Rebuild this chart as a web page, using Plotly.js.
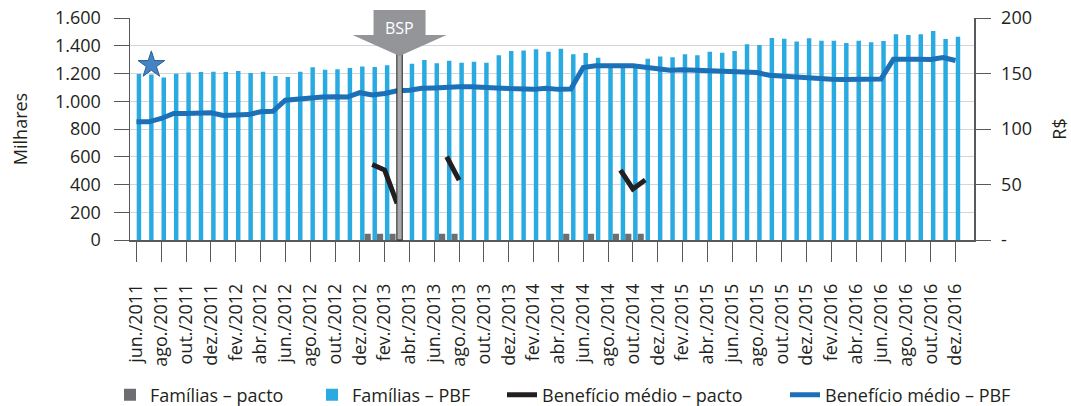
<!DOCTYPE html>
<html><head><meta charset="utf-8">
<script src="https://cdn.plot.ly/plotly-3.0.1.min.js"></script>
<style>html,body{margin:0;padding:0;background:#fff}#chart{width:1071px;height:406px}</style>
</head><body><div id="chart"></div>
<script>
// ---------- DATA ----------
const months = [
 "jun./2011","jul./2011","ago./2011","set./2011","out./2011","nov./2011","dez./2011",
 "jan./2012","fev./2012","mar./2012","abr./2012","mai./2012","jun./2012","jul./2012","ago./2012","set./2012","out./2012","nov./2012","dez./2012",
 "jan./2013","fev./2013","mar./2013","abr./2013","mai./2013","jun./2013","jul./2013","ago./2013","set./2013","out./2013","nov./2013","dez./2013",
 "jan./2014","fev./2014","mar./2014","abr./2014","mai./2014","jun./2014","jul./2014","ago./2014","set./2014","out./2014","nov./2014","dez./2014",
 "jan./2015","fev./2015","mar./2015","abr./2015","mai./2015","jun./2015","jul./2015","ago./2015","set./2015","out./2015","nov./2015","dez./2015",
 "jan./2016","fev./2016","mar./2016","abr./2016","mai./2016","jun./2016","jul./2016","ago./2016","set./2016","out./2016","nov./2016","dez./2016"
];
// Famílias – PBF (milhares)
const familiasPBF = [
 1196,1192,1172,1199,1208,1211,1213,1211,1218,1204,
 1213,1182,1175,1213,1245,1227,1230,1240,1251,1247,
 1259,1265,1271,1297,1273,1292,1278,1285,1278,1331,
 1362,1365,1374,1357,1379,1338,1348,1314,1260,1255,
 1262,1307,1322,1317,1338,1331,1357,1350,1362,1410,
 1405,1456,1451,1430,1454,1436,1436,1420,1436,1425,
 1434,1482,1477,1482,1506,1449,1465
];
// Benefício médio – PBF (R$)
const beneficioPBF = [
 106.5,106.5,109.5,114,114,114,114.6,112.2,112.6,113,
 115.5,116,126,127.3,127.9,128.8,129,128.8,132.7,130.6,
 132,134.5,135,136.7,137,137.8,138,138,138,137,
 136.4,135.7,135.7,136.7,135.7,136,155.4,156.9,157.2,157.2,
 156.9,155.7,154.5,153,153.3,153,152.5,152.3,152.3,151.7,
 150.8,148.4,147.5,146.9,146.6,145.4,144.8,144.5,144.5,145.1,
 145.1,162.9,163.2,162.9,162.6,164.4,161.7
];
// Famílias – pacto (milhares)
const pactoMonths = ["dez./2012","jan./2013","fev./2013","jun./2013","jul./2013","abr./2014","jun./2014","ago./2014","set./2014","out./2014"];
const familiasPacto = [45,45,45,45,45,45,45,45,45,45];
// Benefício médio – pacto (R$), null = gap between segments
const beneficioPactoMonths = ["jan./2013","fev./2013","mar./2013",null,"jul./2013","ago./2013",null,"set./2014","out./2014","nov./2014"];
const beneficioPacto = [68,63,33,null,75,54,null,63,46,54];

const bspMonth = "mar./2013";
const bspLabel = "BSP";
const starMonth = "jul./2011";
const starLevel = 1262;

const seriesNames = ["Famílias – pacto","Famílias – PBF","Benefício médio – pacto","Benefício médio – PBF"];
const yLeftTicks = [0,200,400,600,800,1000,1200,1400,1600];
const yRightTicks = [0,50,100,150,200];
const yRightText = ["-","50","100","150","200"];

// ---------- STYLE ----------
const FONT = "Open Sans, sans-serif";
const TXT = "#231f20";
const AX = "#58595b";
const X_RANGE = [-0.52, 67.49];
const BAR_SHIFT = 0.2;
const idx = m => (m === null ? null : months.indexOf(m));
const allIdx = months.map((m, i) => i);
const evenIdx = allIdx.filter(i => i % 2 === 0);

const tracePactoBars = {
  type: "bar", name: seriesNames[0], x: pactoMonths.map(idx), y: familiasPacto,
  width: 0.5, offset: 0.38, marker: {color: "#6d6e71", line: {width: 0}},
  yaxis: "y", legend: "legend", hoverinfo: "skip"
};
const tracePBFBars = {
  type: "bar", name: seriesNames[1], x: allIdx, y: familiasPBF,
  width: 0.36, offset: 0.02, marker: {color: "#29abe2", line: {width: 0}},
  yaxis: "y", legend: "legend2", hoverinfo: "skip"
};
const traceStar = {
  type: "scatter", mode: "markers", x: [idx(starMonth) + BAR_SHIFT], y: [starLevel],
  marker: {symbol: "star", size: 20, color: "#4483c4", line: {color: "#2b5f95", width: 1}},
  yaxis: "y", showlegend: false, hoverinfo: "skip"
};
const tracePactoLine = {
  type: "scatter", mode: "lines", name: seriesNames[2], x: beneficioPactoMonths.map(idx), y: beneficioPacto,
  line: {color: "#231f20", width: 5}, connectgaps: false,
  xaxis: "x", yaxis: "y2", legend: "legend3", hoverinfo: "skip"
};
const tracePBFLine = {
  type: "scatter", mode: "lines", name: seriesNames[3], x: allIdx, y: beneficioPBF,
  line: {color: "#1c70b8", width: 5},
  xaxis: "x", yaxis: "y2", legend: "legend4", hoverinfo: "skip"
};

const plotL = 130, plotR = 974, plotT = 18, plotB = 240;
const pw = plotR - plotL, ph = plotB - plotT;
const bspX = idx(bspMonth) + BAR_SHIFT;
const bspPaper = (bspX - X_RANGE[0]) / (X_RANGE[1] - X_RANGE[0]);
const tipPaper = (plotB - 54) / ph;

function legendAt(px) {
  return {
    orientation: "h", x: (px - plotL) / pw, xanchor: "left", y: -(395 - plotB) / ph, yanchor: "middle",
    font: {family: FONT, size: 18, color: TXT}, bgcolor: "rgba(0,0,0,0)", borderwidth: 0
  };
}

const layout = {
  width: 1071, height: 406,
  margin: {l: plotL, r: 1071 - plotR, t: plotT, b: 406 - plotB, pad: 0, autoexpand: false},
  paper_bgcolor: "#fff", plot_bgcolor: "#fff",
  separators: ",.",
  font: {family: FONT, size: 18, color: TXT},
  barmode: "overlay",
  showlegend: true,
  hovermode: false,
  xaxis: {
    range: X_RANGE, tickmode: "array", tickvals: evenIdx, ticktext: evenIdx.map(i => months[i]),
    tickangle: -90, ticks: "outside", ticklen: 20, tickwidth: 1, tickcolor: AX,
    showline: true, linecolor: AX, linewidth: 1.5, showgrid: false, zeroline: false,
    tickfont: {family: FONT, size: 18, color: TXT}, ticklabelstandoff: 15, fixedrange: true,
    automargin: false
  },
  yaxis: {
    range: [0, 1600], tickmode: "array", tickvals: yLeftTicks, tickformat: ",d",
    ticks: "outside", ticklen: 15, tickwidth: 1, tickcolor: AX,
    showline: true, linecolor: AX, linewidth: 1.5,
    showgrid: true, gridcolor: "#d4d5d6", gridwidth: 1, zeroline: false,
    tickfont: {family: FONT, size: 18, color: TXT}, ticklabelstandoff: 9,
    title: {text: "Milhares", font: {family: FONT, size: 18, color: TXT}, standoff: 22},
    fixedrange: true, automargin: false
  },
  yaxis2: {
    overlaying: "y", side: "right", range: [0, 200], tickmode: "array",
    tickvals: yRightTicks, ticktext: yRightText,
    ticks: "outside", ticklen: 15, tickwidth: 1, tickcolor: AX,
    showline: true, linecolor: AX, linewidth: 1.5, showgrid: false, zeroline: false,
    tickfont: {family: FONT, size: 18, color: TXT}, ticklabelstandoff: 7,
    title: {text: "R$", font: {family: FONT, size: 18, color: TXT}, standoff: 24},
    fixedrange: true, automargin: false
  },
  legend: legendAt(110),
  legend2: legendAt(312),
  legend3: legendAt(502),
  legend4: legendAt(785),
  shapes: [
    {type: "rect", xref: "paper", xsizemode: "pixel", xanchor: bspPaper, x0: -2.7, x1: 2.7,
     yref: "paper", y0: 0, y1: tipPaper, fillcolor: "#a7a9ac", line: {color: "#231f20", width: 1}, layer: "above"},
    {type: "path", xref: "paper", xsizemode: "pixel", xanchor: bspPaper,
     yref: "paper", ysizemode: "pixel", yanchor: 1,
     path: "M-26,8L26,8L26,-17L47,-17L0,-38L-47,-17L-26,-17Z",
     fillcolor: "#939598", line: {width: 0}, layer: "above"}
  ],
  annotations: [
    {xref: "paper", x: bspPaper, yref: "paper", y: 1, yshift: -10, xanchor: "center", yanchor: "middle",
     text: bspLabel, showarrow: false, font: {family: FONT, size: 16, color: "#ffffff"}}
  ]
};

Plotly.newPlot("chart", [tracePactoBars, tracePBFBars, traceStar, tracePactoLine, tracePBFLine], layout,
  {displayModeBar: false, staticPlot: true, responsive: false});
</script>
</body></html>
